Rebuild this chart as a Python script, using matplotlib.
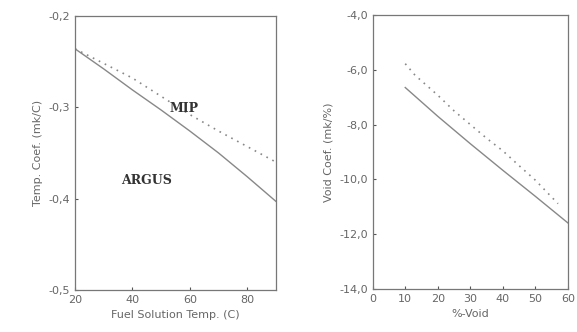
import numpy as np
import matplotlib
matplotlib.use("Agg")
import matplotlib.pyplot as plt
from matplotlib.ticker import FuncFormatter

# left panel: temperature coefficient
temp = [20, 30, 40, 50, 60, 70, 80, 90]
argus_temp = [-0.236, -0.258, -0.281, -0.303, -0.326, -0.350, -0.376, -0.403]
mip_temp = [-0.236, -0.252, -0.268, -0.288, -0.308, -0.326, -0.343, -0.360]

# right panel: void coefficient
void = [10, 20, 30, 40, 50, 60]
argus_void = [-6.65, -7.7, -8.7, -9.67, -10.62, -11.59]
void_mip = [10, 13, 20, 25, 30, 35, 40, 45, 50, 57]
mip_void = [-5.78, -6.2, -6.93, -7.5, -8.0, -8.5, -8.96, -9.5, -10.03, -10.89]

gray = '#555555'
tcol = '#666666'

def comma(v, pos):
    return ('%.1f' % v).replace('.', ',')

fig = plt.figure(figsize=(5.77, 3.32), dpi=100)
ax1 = fig.add_axes([0.130, 0.127, 0.348, 0.825])
ax2 = fig.add_axes([0.646, 0.130, 0.338, 0.825])

ax1.plot(temp, argus_temp, color='#888888', lw=1.0)
ax1.plot(temp, mip_temp, color='#888888', lw=1.2, ls=(0, (1, 3)))
ax1.set_xlim(20, 90)
ax1.set_ylim(-0.5, -0.2)
ax1.set_xticks([20, 40, 60, 80])
ax1.set_yticks([-0.5, -0.4, -0.3, -0.2])
ax1.yaxis.set_major_formatter(FuncFormatter(comma))
ax1.set_xlabel('Fuel Solution Temp. (C)', color=tcol, fontsize=8)
ax1.set_ylabel('Temp. Coef. (mk/C)', color=tcol, fontsize=8)
ax1.text(58, -0.301, 'MIP', family='DejaVu Serif', fontweight='bold',
         fontsize=9, color='#333333', ha='center', va='center')
ax1.text(45, -0.38, 'ARGUS', family='DejaVu Serif', fontweight='bold',
         fontsize=9, color='#333333', ha='center', va='center')

ax2.plot(void, argus_void, color='#888888', lw=1.0)
ax2.plot(void_mip, mip_void, color='#888888', lw=1.2, ls=(0, (1, 3)))
ax2.set_xlim(0, 60)
ax2.set_ylim(-14, -4)
ax2.set_xticks([0, 10, 20, 30, 40, 50, 60])
ax2.set_yticks([-14, -12, -10, -8, -6, -4])
ax2.yaxis.set_major_formatter(FuncFormatter(comma))
ax2.set_xlabel('%-Void', color=tcol, fontsize=8)
ax2.set_ylabel('Void Coef. (mk/%)', color=tcol, fontsize=8)

for ax in (ax1, ax2):
    ax.tick_params(direction='in', length=2, colors=gray, labelcolor=tcol,
                   labelsize=8)
    for s in ax.spines.values():
        s.set_color('#777777')
        s.set_linewidth(0.9)

fig.savefig('out.png', dpi=100)
